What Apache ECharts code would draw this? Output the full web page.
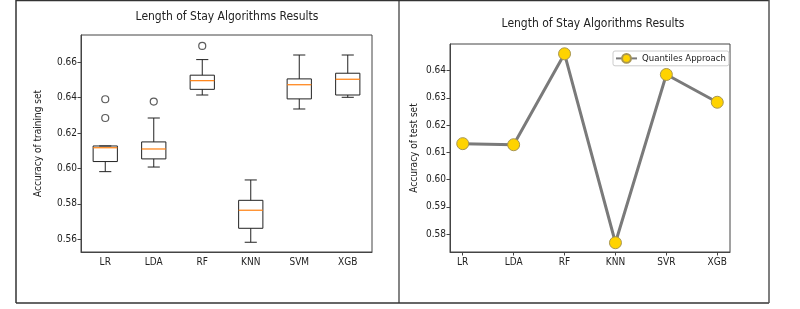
<!DOCTYPE html>
<html>
<head>
<meta charset="utf-8">
<script src="https://cdn.jsdelivr.net/npm/echarts@6/dist/echarts.min.js"></script>
<style>html,body{margin:0;padding:0;background:#fff}#c{width:800px;height:309px}</style>
</head>
<body>
<div id="c"></div>
<script>
const titleText = 'Length of Stay Algorithms Results';
const categoriesTrain = ['LR', 'LDA', 'RF', 'KNN', 'SVM', 'XGB'];
const trainMin    = [0.5982, 0.6008, 0.6415, 0.5583, 0.6336, 0.6402];
const trainQ1     = [0.6039, 0.6054, 0.6447, 0.5662, 0.6393, 0.6415];
const trainMedian = [0.6117, 0.6110, 0.6496, 0.5764, 0.6473, 0.6504];
const trainQ3     = [0.6127, 0.6150, 0.6527, 0.5820, 0.6506, 0.6538];
const trainMax    = [0.6127, 0.6285, 0.6615, 0.5935, 0.6641, 0.6641];
const outlierCat  = ['LR', 'LR', 'LDA', 'RF'];
const outlierVal  = [0.6391, 0.6285, 0.6378, 0.6692];
const trainTicks  = [0.56, 0.58, 0.60, 0.62, 0.64, 0.66];

const categoriesTest = ['LR', 'LDA', 'RF', 'KNN', 'SVR', 'XGB'];
const testAcc = [0.6132, 0.6128, 0.6462, 0.5768, 0.6386, 0.6284];
const testTicks = [0.58, 0.59, 0.60, 0.61, 0.62, 0.63, 0.64];
const legendName = 'Quantiles Approach';

const FONT = "'DejaVu Sans Condensed', 'Liberation Sans Narrow', 'DejaVu Sans', sans-serif";
const AX = '#444';

const boxData = categoriesTrain.map((c, i) => [i, trainMin[i], trainQ1[i], trainMedian[i], trainQ3[i], trainMax[i]]);
const outData = outlierCat.map((c, i) => [categoriesTrain.indexOf(c), outlierVal[i]]);
const testData = testAcc.map((v, i) => [i, v]);

function renderBox(params, api) {
  const x = api.value(0);
  const band = api.size([1, 0])[0];
  const bw = band * 0.5, cw = bw * 0.5;
  const pMin = api.coord([x, api.value(1)]);
  const pQ1 = api.coord([x, api.value(2)]);
  const pMed = api.coord([x, api.value(3)]);
  const pQ3 = api.coord([x, api.value(4)]);
  const pMax = api.coord([x, api.value(5)]);
  const cx = pQ1[0];
  const ls = { stroke: '#222', lineWidth: 1, fill: null };
  return {
    type: 'group',
    children: [
      { type: 'line', shape: { x1: cx, y1: pQ1[1], x2: cx, y2: pMin[1] }, style: ls },
      { type: 'line', shape: { x1: cx, y1: pQ3[1], x2: cx, y2: pMax[1] }, style: ls },
      { type: 'line', shape: { x1: cx - cw / 2, y1: pMin[1], x2: cx + cw / 2, y2: pMin[1] }, style: ls },
      { type: 'line', shape: { x1: cx - cw / 2, y1: pMax[1], x2: cx + cw / 2, y2: pMax[1] }, style: ls },
      { type: 'rect', shape: { x: cx - bw / 2, y: pQ3[1], width: bw, height: pQ1[1] - pQ3[1] }, style: { stroke: '#222', lineWidth: 1, fill: 'rgba(0,0,0,0)' } },
      { type: 'line', shape: { x1: cx - bw / 2, y1: pMed[1], x2: cx + bw / 2, y2: pMed[1] }, style: { stroke: '#ff7f0e', lineWidth: 1.2 } }
    ]
  };
}

const chart = echarts.init(document.getElementById('c'), null, { renderer: 'canvas' });
chart.setOption({
  animation: false,
  backgroundColor: '#fff',
  textStyle: { fontFamily: FONT },
  title: [
    { text: titleText, left: 222, top: 6, textAlign: 'center', textStyle: { fontFamily: FONT, fontSize: 12, fontWeight: 'normal', color: '#222' } },
    { text: titleText, left: 588, top: 13, textAlign: 'center', textStyle: { fontFamily: FONT, fontSize: 12, fontWeight: 'normal', color: '#222' } }
  ],
  legend: {
    data: [legendName],
    left: 613, top: 51,
    itemWidth: 21, itemHeight: 11, itemGap: 3,
    padding: [2, 3, 2, 2],
    borderColor: '#cccccc', borderWidth: 1, borderRadius: 2,
    backgroundColor: '#fff',
    textStyle: { fontFamily: FONT, fontSize: 9.5, color: '#222' }
  },
  grid: [
    { left: 81, top: 35, width: 291, height: 217, show: true, borderColor: AX, borderWidth: 1, backgroundColor: 'transparent' },
    { left: 450, top: 44, width: 280, height: 208, show: true, borderColor: AX, borderWidth: 1, backgroundColor: 'transparent' }
  ],
  xAxis: [
    {
      gridIndex: 0, type: 'category', data: categoriesTrain, boundaryGap: true,
      axisLine: { lineStyle: { color: AX } },
      axisTick: { alignWithLabel: true, length: 3.5, lineStyle: { color: AX } },
      axisLabel: { color: '#222', fontSize: 10, margin: 5, fontFamily: FONT },
      splitLine: { show: false }
    },
    {
      gridIndex: 1, type: 'value', min: -0.25, max: 5.25,
      axisLine: { onZero: false, lineStyle: { color: AX } },
      axisTick: { length: 3.5, lineStyle: { color: AX }, customValues: [0, 1, 2, 3, 4, 5] },
      axisLabel: { color: '#222', fontSize: 10, margin: 5, fontFamily: FONT, customValues: [0, 1, 2, 3, 4, 5], formatter: v => categoriesTest[Math.round(v)] },
      splitLine: { show: false }
    }
  ],
  yAxis: [
    {
      gridIndex: 0, type: 'value', min: 0.5528, max: 0.6754,
      name: 'Accuracy of training set', nameLocation: 'middle', nameGap: 38,
      nameTextStyle: { fontFamily: FONT, fontSize: 10, color: '#222' },
      axisLine: { show: true, onZero: false, lineStyle: { color: AX } },
      axisTick: { show: true, length: 3.5, lineStyle: { color: AX }, customValues: trainTicks },
      axisLabel: { color: '#222', fontSize: 10, margin: 4, fontFamily: FONT, customValues: trainTicks, formatter: v => v.toFixed(2) },
      splitLine: { show: false }
    },
    {
      gridIndex: 1, type: 'value', min: 0.5734, max: 0.6498,
      name: 'Accuracy of test set', nameLocation: 'middle', nameGap: 31,
      nameTextStyle: { fontFamily: FONT, fontSize: 10, color: '#222' },
      axisLine: { show: true, onZero: false, lineStyle: { color: AX } },
      axisTick: { show: true, length: 3.5, lineStyle: { color: AX }, customValues: testTicks },
      axisLabel: { color: '#222', fontSize: 10, margin: 4, fontFamily: FONT, customValues: testTicks, formatter: v => v.toFixed(2) },
      splitLine: { show: false }
    }
  ],
  series: [
    {
      type: 'custom', xAxisIndex: 0, yAxisIndex: 0,
      renderItem: renderBox, data: boxData,
      encode: { x: 0, y: [1, 2, 3, 4, 5] }, silent: true
    },
    {
      type: 'scatter', xAxisIndex: 0, yAxisIndex: 0, data: outData,
      symbol: 'circle', symbolSize: 7,
      itemStyle: { color: '#fff', borderColor: '#333', borderWidth: 1.2 }, silent: true
    },
    {
      name: legendName, type: 'line', xAxisIndex: 1, yAxisIndex: 1, data: testData,
      symbol: 'circle', symbolSize: 12, showSymbol: true,
      lineStyle: { color: '#7a7a7a', width: 3 },
      itemStyle: { color: '#FFD300', borderColor: '#a89650', borderWidth: 1 },
      z: 3
    }
  ],
  graphic: [
    { type: 'line', shape: { x1: 16, y1: 0.5, x2: 769, y2: 0.5 }, style: { stroke: '#333', lineWidth: 1.5 } },
    { type: 'line', shape: { x1: 16, y1: 303, x2: 769, y2: 303 }, style: { stroke: '#333', lineWidth: 1.5 } },
    { type: 'line', shape: { x1: 16, y1: 0, x2: 16, y2: 303 }, style: { stroke: '#333', lineWidth: 1.5 } },
    { type: 'line', shape: { x1: 769, y1: 0, x2: 769, y2: 303 }, style: { stroke: '#555', lineWidth: 1.5 } },
    { type: 'line', shape: { x1: 399, y1: 0, x2: 399, y2: 303 }, style: { stroke: '#333', lineWidth: 1.2 } }
  ]
});
</script>
</body>
</html>
